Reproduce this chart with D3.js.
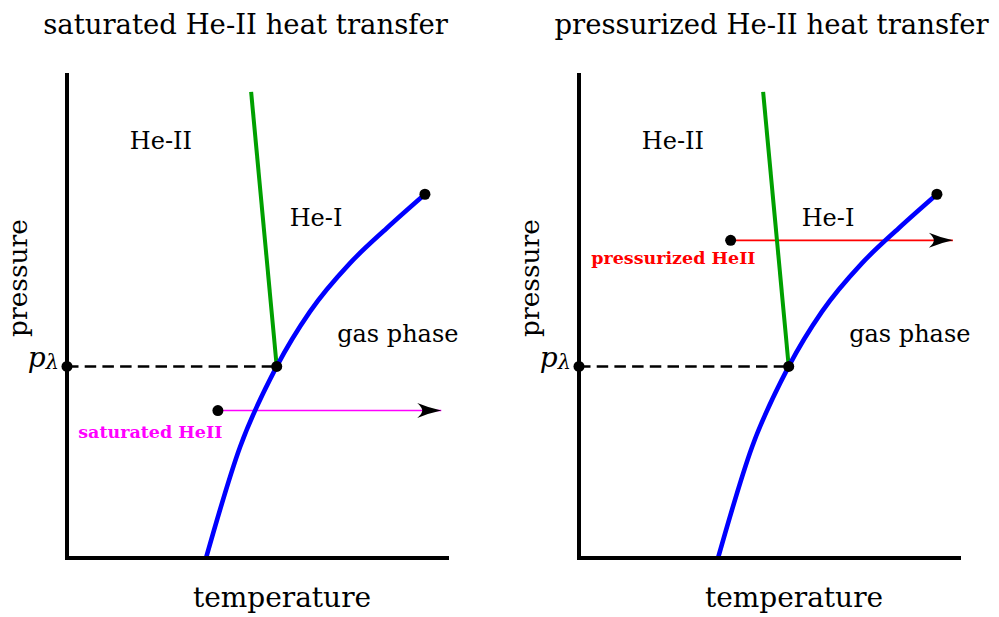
<!DOCTYPE html>
<html>
<head>
<meta charset="utf-8">
<script src="https://cdn.jsdelivr.net/npm/d3@7"></script>
<style>
  html, body { margin: 0; padding: 0; background: #fff; }
  svg { display: block; }
  text { font-family: "DejaVu Serif", serif; fill: #000; }
</style>
</head>
<body>
<svg id="chart" width="999" height="617"></svg>
<script>
// Liquid-vapour saturation curve of helium (schematic units: temperature 0-10, pressure 0-10)
const vaporT = [3.64, 4.53, 5.49, 6.36, 7.41, 8.37, 9.37];
const vaporP = [0.00, 2.29, 3.95, 5.08, 6.08, 6.80, 7.50];
// Lambda line separating He-II from He-I
const lambdaT = [4.82, 5.49];
const lambdaP = [9.61, 3.95];
// Lambda point pressure
const pLambda = 3.95;
const lambdaPointT = 5.49;
// Critical point
const criticalT = 9.37;
const criticalP = 7.50;

// One panel per cooling scheme
const panelTitles = ["saturated He-II heat transfer", "pressurized He-II heat transfer"];
const bathNames = ["saturated HeII", "pressurized HeII"];
const bathColors = ["#ff00ff", "#ff0000"];
const bathStartT = [3.95, 3.97];
const bathStartP = [3.04, 6.55];
const bathEndT = [9.85, 9.84];

const regionNames = ["He-II", "He-I", "gas phase"];

const svg = d3.select("#chart");

const W = 382, H = 485;
const panelX = [67, 579];
const panelY = 73;

const x = d3.scaleLinear().domain([0, 10]).range([0, W]);
const y = d3.scaleLinear().domain([0, 10]).range([H, 0]);

const vaporPts = vaporT.map((t, i) => [t, vaporP[i]]);
const lambdaPts = lambdaT.map((t, i) => [t, lambdaP[i]]);

const line = d3.line()
  .x(d => x(d[0]))
  .y(d => y(d[1]))
  .curve(d3.curveMonotoneX);

// Stealth-style arrowhead
const defs = svg.append("defs");
defs.append("marker")
  .attr("id", "head")
  .attr("markerUnits", "userSpaceOnUse")
  .attr("viewBox", "-25 -8 27 16")
  .attr("refX", 0).attr("refY", 0)
  .attr("markerWidth", 27).attr("markerHeight", 16)
  .attr("orient", "auto")
  .append("path")
  .attr("d", "M0,0 Q-12,-2.5 -24,-7.5 Q-19,-3 -19,0 Q-19,3 -24,7.5 Q-12,2.5 0,0 Z")
  .attr("fill", "#000");

// Region label positions in data units, per label
const regionPos = [[2.46, 8.43], [6.52, 6.85], [8.66, 4.46]];
const bathLabelPos = [[2.18, 2.48], [2.47, 6.06]];
const titleCX = [245.5, 771.5];

panelX.forEach((px, k) => {
  const g = svg.append("g").attr("transform", `translate(${px},${panelY})`);

  // title
  svg.append("text")
    .attr("x", titleCX[k]).attr("y", 33.5)
    .attr("text-anchor", "middle")
    .attr("font-size", 27.5)
    .text(panelTitles[k]);

  // dashed lambda-pressure line
  g.append("line")
    .attr("x1", x(0)).attr("x2", x(lambdaPointT))
    .attr("y1", y(pLambda)).attr("y2", y(pLambda))
    .attr("stroke", "#000").attr("stroke-width", 2.6)
    .attr("stroke-dasharray", "11.5,6.2");

  // bath path arrow
  g.append("line")
    .attr("x1", x(bathStartT[k])).attr("x2", x(bathEndT[k]) - 2)
    .attr("y1", y(bathStartP[k])).attr("y2", y(bathStartP[k]))
    .attr("stroke", bathColors[k]).attr("stroke-width", 1.6)
    .attr("marker-end", "url(#head)");

  // lambda line
  g.append("path")
    .attr("d", d3.line().x(d => x(d[0])).y(d => y(d[1]))(lambdaPts))
    .attr("fill", "none").attr("stroke", "#00a000").attr("stroke-width", 4);

  // saturation curve
  g.append("path")
    .attr("d", line(vaporPts))
    .attr("fill", "none").attr("stroke", "#0000ff").attr("stroke-width", 4.6);

  // axes
  g.append("path")
    .attr("d", `M${x(0)},0 V${y(0)} H${x(10)}`)
    .attr("fill", "none").attr("stroke", "#000").attr("stroke-width", 4)
    .attr("stroke-linejoin", "miter");

  // points
  const dots = [
    [0, pLambda], [lambdaPointT, pLambda], [criticalT, criticalP],
    [bathStartT[k], bathStartP[k]]
  ];
  g.selectAll("circle.pt").data(dots).join("circle")
    .attr("class", "pt")
    .attr("cx", d => x(d[0])).attr("cy", d => y(d[1]))
    .attr("r", 5.5).attr("fill", "#000");

  // region labels
  regionNames.forEach((name, i) => {
    g.append("text")
      .attr("x", x(regionPos[i][0])).attr("y", y(regionPos[i][1]))
      .attr("text-anchor", "middle")
      .attr("font-size", 24)
      .text(name);
  });

  // bath label
  const bl = bathLabelPos[k];
  g.append("text")
    .attr("x", x(bl[0])).attr("y", y(bl[1]))
    .attr("text-anchor", "middle")
    .attr("font-size", 17.5).attr("font-weight", "bold")
    .style("fill", bathColors[k])
    .text(bathNames[k]);

  // p_lambda label
  const pl = g.append("text")
    .attr("x", x(0) - 8).attr("y", y(pLambda) + 1)
    .attr("text-anchor", "end")
    .attr("font-size", 28);
  pl.append("tspan").attr("font-style", "italic").text("p");
  pl.append("tspan").attr("font-size", 21).attr("font-style", "italic").attr("dy", 2).text("λ");

  // axis titles
  g.append("text")
    .attr("x", x(5) + 24).attr("y", H + 49)
    .attr("text-anchor", "middle")
    .attr("font-size", 28)
    .text("temperature");
  g.append("text")
    .attr("transform", `translate(${-40},${205}) rotate(-90)`)
    .attr("text-anchor", "middle")
    .attr("font-size", 26.5)
    .text("pressure");
});
</script>
</body>
</html>
